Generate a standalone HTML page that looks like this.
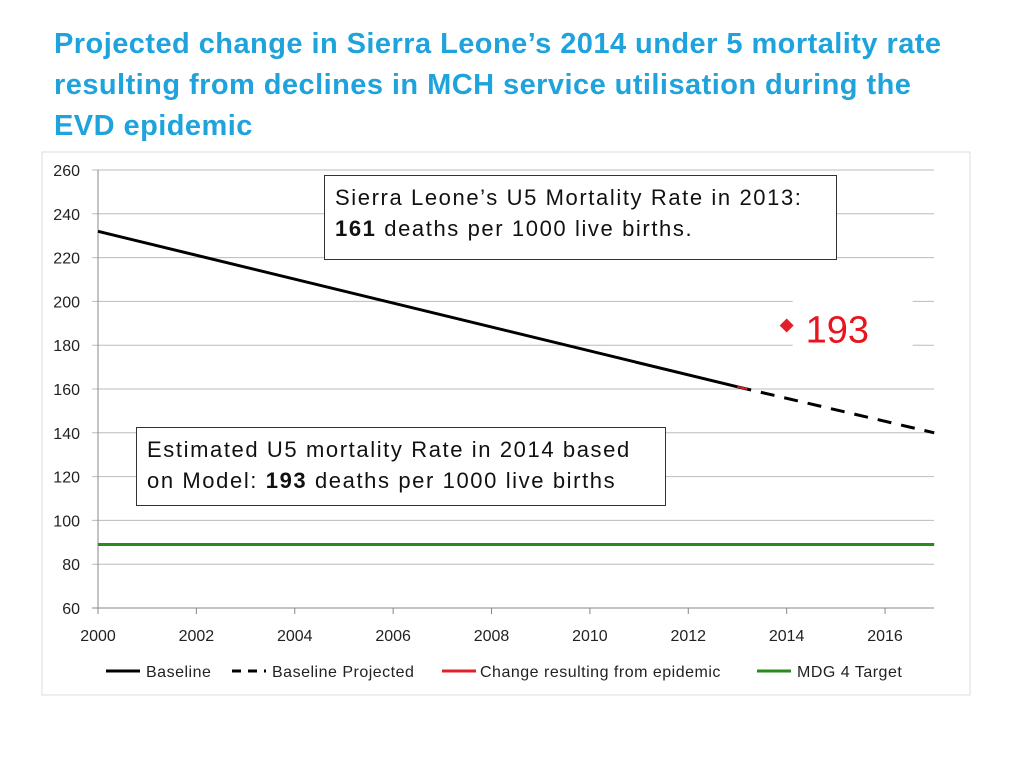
<!DOCTYPE html>
<html><head><meta charset="utf-8"><style>
body{margin:0;width:1024px;height:768px;background:#fff;font-family:"Liberation Sans",sans-serif;overflow:hidden;position:relative}
#title{position:absolute;left:54px;top:24px;color:#1fa3dc;font-weight:bold;font-size:29px;line-height:41px;letter-spacing:0.45px;white-space:nowrap}
.box{position:absolute;background:#fff;border:1px solid #333;font-size:22px;line-height:31px;padding:6px 10px;color:#111;box-sizing:border-box;letter-spacing:1.6px;white-space:nowrap}
</style></head><body>
<div id="title">Projected change in Sierra Leone’s 2014 under 5 mortality rate<br>resulting from declines in MCH service utilisation during the<br>EVD epidemic</div>
<svg id="chart" width="1024" height="768" style="position:absolute;left:0;top:0">
<rect x="42" y="152" width="928" height="543" fill="none" stroke="#ddd"/>
</svg>
<div class="box" style="left:324px;top:175px;width:513px;height:85px">Sierra Leone’s U5 Mortality Rate in 2013:<br><b>161</b> deaths per 1000 live births.</div>
<div class="box" style="left:136px;top:427px;width:530px;height:79px">Estimated U5 mortality Rate in 2014 based<br>on Model: <b>193</b> deaths per 1000 live births</div>
<script>
const years=[2000,2013];
const baseline=[232,161];
const projYears=[2013,2017];
const projected=[161,140];
const changeYears=[2013,2013.2];
const change=[161,160];
const mdgYears=[2000,2017];
const mdg=[89,89];
const pointYear=[2014];
const pointValue=[189];
const pointLabel=["193"];
const yTicks=[60,80,100,120,140,160,180,200,220,240,260];
const xTicks=[2000,2002,2004,2006,2008,2010,2012,2014,2016];
const legendLabels=["Baseline","Baseline Projected","Change resulting from epidemic","MDG 4 Target"];
const svg=document.getElementById('chart');const NS='http://www.w3.org/2000/svg';
const X=v=>98+(v-2000)*49.19, Y=v=>608-(v-60)*2.19;
function mk(t,a,p){const e=document.createElementNS(NS,t);for(const k in a)e.setAttribute(k,a[k]);(p||svg).appendChild(e);return e;}
yTicks.forEach(t=>{
 const l=mk('line',{x1:92,x2:934,y1:Y(t),y2:Y(t),stroke:t===60?'#888':'#bbb','stroke-width':1});
 
 
 const tx=mk('text',{x:80,y:Y(t)+6,'text-anchor':'end','font-size':16,fill:'#222'});tx.textContent=t;
 
 
});
const ax=mk('line',{x1:98,x2:98,y1:170,y2:614,stroke:'#888'});


xTicks.forEach(t=>{
 const tk=mk('line',{x1:X(t),x2:X(t),y1:608,y2:614,stroke:'#888'});
 
 
 const tx=mk('text',{x:X(t),y:641,'text-anchor':'middle','font-size':16,fill:'#222'});tx.textContent=t;
 
 
});
function line(xs,ys,c,w,dash,name){const a={points:xs.map((x,i)=>X(x)+','+Y(ys[i])).join(' '),fill:'none',stroke:c,'stroke-width':w};if(dash)a['stroke-dasharray']=dash;const p=mk('polyline',a);
 
 }
line(mdgYears,mdg,'#2a8a1e',3,null,'mdg-target-line');
line(projYears,projected,'#000',3,'14,10','baseline-projected-line');
line(years,baseline,'#000',3,null,'baseline-line');
line(changeYears,change,'#e0202a',2,null,'change-line');
const bg=mk('rect',{x:X(pointYear[0])+6,y:Y(pointValue[0])-30,width:120,height:60,fill:'#fff'});


const px=X(pointYear[0]),py=Y(pointValue[0]);
const d=mk('polygon',{points:`${px},${py-7} ${px+7},${py} ${px},${py+7} ${px-7},${py}`,fill:'#e0202a'});


const pl=mk('text',{x:px+19,y:py+17,'font-size':38,fill:'#e8141e'});pl.textContent=pointLabel[0];


const lx=[106,232,442,757],lt=[146,272,480,797];
legendLabels.forEach((s,i)=>{
 const col=['#000','#000','#e0202a','#2a8a1e'][i];
 const a={x1:lx[i],x2:lx[i]+34,y1:671,y2:671,stroke:col,'stroke-width':3};if(i===1)a['stroke-dasharray']='9,7';
 const l=mk('line',a);
 
 
 const t=mk('text',{x:lt[i],y:677,'font-size':16,fill:'#222','letter-spacing':0.5});t.textContent=s;
 
 
});
</script>
</body></html>
